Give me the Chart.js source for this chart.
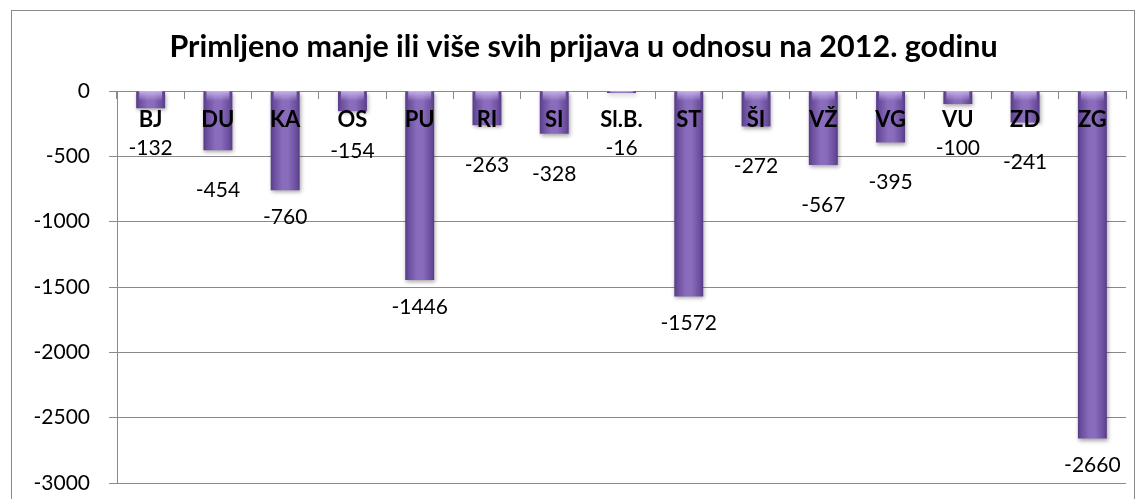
<!DOCTYPE html>
<html>
<head>
<meta charset="utf-8">
<script src="https://cdn.jsdelivr.net/npm/chart.js@4/dist/chart.umd.min.js"></script>
<style>
  html, body { margin: 0; padding: 0; background: #fff; overflow: hidden; }
  #frame { position: absolute; left: 11px; top: 10px; width: 1124px; height: 520px; border: 1px solid #8a8a8a; box-sizing: border-box; }
  #wrap { position: absolute; left: 0; top: 0; width: 1142px; height: 499px; }
</style>
</head>
<body>
<div id="frame"></div>
<div id="wrap"><canvas id="c" width="1142" height="499"></canvas></div>
<script>
const titleText = 'Primljeno manje ili više svih prijava u odnosu na 2012. godinu';
const categories = ['BJ','DU','KA','OS','PU','RI','SI','Sl.B.','ST','ŠI','VŽ','VG','VU','ZD','ZG'];
const values = [-132, -454, -760, -154, -1446, -263, -328, -16, -1572, -272, -567, -395, -100, -241, -2660];
const yTicks = [0, -500, -1000, -1500, -2000, -2500, -3000];

const FONT = 'Lato, "Open Sans", sans-serif';
const BAR_PCT = 0.43;

function barGradient(ctx) {
  const chart = ctx.chart;
  const xs = chart.scales && chart.scales.x;
  if (!xs || ctx.dataIndex === undefined) return '#7a5cab';
  const cx = xs.getPixelForValue(ctx.dataIndex);
  const w = (xs.width / categories.length) * BAR_PCT;
  if (!Number.isFinite(cx) || !Number.isFinite(w) || w <= 0) return '#7a5cab';
  const g = chart.ctx.createLinearGradient(cx - w / 2, 0, cx + w / 2, 0);
  g.addColorStop(0, '#573b86');
  g.addColorStop(0.12, '#6c4e9f');
  g.addColorStop(0.4, '#8a6cbc');
  g.addColorStop(0.6, '#8a6cbc');
  g.addColorStop(0.88, '#6c4e9f');
  g.addColorStop(1, '#573b86');
  return g;
}

const shadowPlugin = {
  id: 'barShadow',
  beforeDatasetsDraw(chart) {
    const c = chart.ctx;
    c.save();
    c.shadowColor = 'rgba(0,0,0,0.35)';
    c.shadowBlur = 4;
    c.shadowOffsetX = 1;
    c.shadowOffsetY = 2;
  },
  afterDatasetsDraw(chart) {
    chart.ctx.restore();
    const c = chart.ctx;
    const meta = chart.getDatasetMeta(0);
    const top = chart.scales.y.getPixelForValue(0);
    meta.data.forEach(el => {
      const w = el.width;
      const h = Math.min(10, el.y - top);
      if (!(h > 0) || !Number.isFinite(w)) return;
      const g = c.createLinearGradient(0, top, 0, top + h);
      g.addColorStop(0, 'rgba(205,185,240,0.9)');
      g.addColorStop(1, 'rgba(205,185,240,0)');
      c.fillStyle = g;
      c.fillRect(el.x - w / 2 + 3, top, w - 6, h);
    });
  }
};

const valueLabels = {
  id: 'valueLabels',
  afterDatasetsDraw(chart) {
    const c = chart.ctx;
    const meta = chart.getDatasetMeta(0);
    const ys = chart.scales.y;
    const minY = ys.getPixelForValue(0) + 57;
    c.save();
    c.font = '21px ' + FONT;
    c.fillStyle = '#000';
    c.textAlign = 'center';
    c.textBaseline = 'middle';
    meta.data.forEach((el, i) => {
      const v = values[i];
      const off = v < -700 ? 27 : 40;
      const y = Math.max(el.y + off, minY);
      c.fillText(String(v), el.x, y);
    });
    c.restore();
  }
};

const titlePlugin = {
  id: 'chartTitle',
  afterDraw(chart) {
    const c = chart.ctx;
    c.save();
    c.font = 'bold 30.5px ' + FONT;
    c.fillStyle = '#000';
    c.textAlign = 'center';
    c.textBaseline = 'middle';
    c.fillText(titleText, (41 + chart.chartArea.right) / 2, 47);
    c.restore();
  }
};

const chart = new Chart(document.getElementById('c'), {
  type: 'bar',
  data: {
    labels: categories,
    datasets: [{
      data: values,
      backgroundColor: barGradient,
      borderWidth: 0,
      barPercentage: BAR_PCT,
      categoryPercentage: 1
    }]
  },
  options: {
    responsive: false,
    animation: false,
    events: [],
    layout: { padding: { left: 0, right: 16, top: 91, bottom: 16 } },
    plugins: {
      legend: { display: false },
      tooltip: { enabled: false },
      title: { display: false }
    },
    scales: {
      x: {
        position: { y: 0 },
        afterFit(scale) { scale.height = 0; scale.paddingTop = 0; scale.paddingBottom = 0; },
        grid: { drawOnChartArea: false, drawTicks: true, tickLength: 7, color: '#8a8a8a', lineWidth: 1 },
        border: { display: true, color: '#8a8a8a', width: 1 },
        ticks: { z: 1, color: '#000', font: { family: FONT, size: 22, weight: 'bold' }, padding: 9 }
      },
      y: {
        min: -3000,
        max: 0,
        afterFit(scale) { scale.width = 117; scale.paddingTop = 0; scale.paddingBottom = 0; },
        afterBuildTicks(scale) { scale.ticks = yTicks.map(v => ({ value: v })); },
        grid: { color: '#8a8a8a', lineWidth: 1, tickLength: 8 },
        border: { display: true, color: '#8a8a8a', width: 1 },
        ticks: { color: '#000', font: { family: FONT, size: 21 }, padding: 19, callback: v => String(v) }
      }
    }
  },
  plugins: [shadowPlugin, valueLabels, titlePlugin]
});
chart.update('none');
</script>
</body>
</html>
